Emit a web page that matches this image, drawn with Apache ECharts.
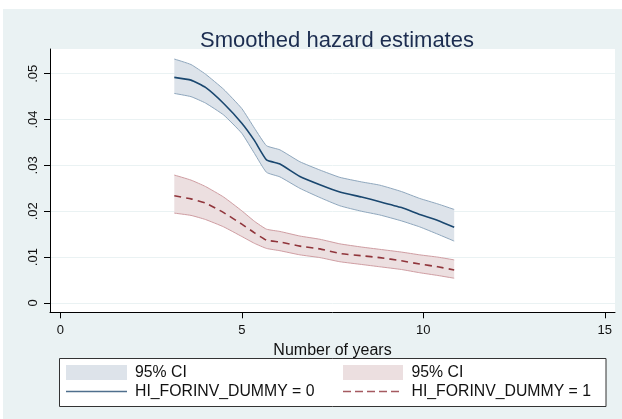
<!DOCTYPE html>
<html>
<head>
<meta charset="utf-8">
<script src="https://cdn.jsdelivr.net/npm/echarts@6/dist/echarts.min.js"></script>
<style>
    body { margin: 0; background: #fff; }
    #bg { position: absolute; left: 3px; top: 9px; width: 619px; height: 410px; background: #eaf2f3; }
    #chart { position: absolute; left: 0; top: 0; width: 622px; height: 419px; }
</style>
</head>
<body>
<div id="bg"></div>
<div id="chart"></div>
<script>
// years on the x axis
const years = [3.14, 3.6, 4.0, 4.5, 5.0, 5.35, 5.68, 6.05, 6.6, 7.15, 7.7, 8.3, 8.8, 9.4, 9.9, 10.4, 10.85];

// HI_FORINV_DUMMY = 0
const blueMean  = [.0492, .0486, .0470, .0435, .0392, .0354, .0312, .0303, .0276, .0258, .0242, .0231, .0221, .0208, .0193, .0180, .0165];
const blueUpper = [.0532, .0520, .0499, .0466, .0424, .0381, .0343, .0334, .0308, .0290, .0274, .0264, .0257, .0243, .0228, .0216, .0204];
const blueLower = [.0457, .0450, .0436, .0410, .0370, .0326, .0285, .0275, .0250, .0230, .0212, .0200, .0192, .0179, .0166, .0150, .0135];

// HI_FORINV_DUMMY = 1
const redMean  = [.0234, .0227, .0218, .0197, .0172, .0153, .0137, .0133, .0124, .0118, .0108, .0103, .0099, .0092, .0085, .0079, .0072];
const redUpper = [.0279, .0268, .0254, .0231, .0201, .0178, .0161, .0156, .0146, .0139, .0129, .0122, .0117, .0111, .0105, .0100, .0094];
const redLower = [.0196, .0191, .0182, .0166, .0145, .0130, .0119, .0114, .0105, .0099, .0090, .0084, .0079, .0073, .0066, .0060, .0054];

const xTicks = [0, 5, 10, 15];
const yTicks = [0, 0.01, 0.02, 0.03, 0.04, 0.05];

const blue = '#1a476f', blueFill = '#dde3ea', blueEdge = '#8fa7bd';
const red = '#90353b', redFill = '#ecdfe0', redEdge = '#cf9da2';
const SMOOTH = 0.15;

// CI band: filled polygon (custom series) plus the two edge lines
function band(lower, upper, fill, edge) {
    return [
        {
            type: 'custom',
            data: years.map((x, i) => [x, lower[i], upper[i]]),
            encode: { x: 0, y: [1, 2] },
            silent: true,
            z: 1,
            renderItem(params, api) {
                if (params.dataIndex !== 0) return;
                const pts = [];
                years.forEach((x, i) => pts.push(api.coord([x, upper[i]])));
                for (let i = years.length - 1; i >= 0; i--) pts.push(api.coord([years[i], lower[i]]));
                return { type: 'polygon', shape: { points: pts }, style: { fill: fill } };
            },
        },
        { type: 'line', data: years.map((x, i) => [x, upper[i]]), symbol: 'none', smooth: SMOOTH, lineStyle: { color: edge, width: 1 }, z: 2 },
        { type: 'line', data: years.map((x, i) => [x, lower[i]]), symbol: 'none', smooth: SMOOTH, lineStyle: { color: edge, width: 1 }, z: 2 },
    ];
}

const chart = echarts.init(document.getElementById('chart'));
const font = 'Liberation Sans, Arial, sans-serif';

const option = {
    animation: false,
    backgroundColor: 'transparent',
    textStyle: { fontFamily: font },
    title: {
        text: 'Smoothed hazard estimates',
        left: 332, top: 25, textAlign: 'center',
        textStyle: { fontSize: 22, fontWeight: 'normal', color: '#1c2d50', fontFamily: font },
    },
    grid: {
        left: 50, right: 7, top: 49, bottom: 106.7,
        show: true, backgroundColor: '#fff', borderWidth: 0,
        containLabel: false, outerBoundsMode: 'none',
    },
    xAxis: {
        type: 'value', min: -0.284, max: 15.28,
        name: 'Number of years', nameLocation: 'middle', nameGap: 19,
        nameTextStyle: { fontSize: 16, color: '#111', fontFamily: font },
        axisLine: { onZero: false, lineStyle: { color: '#000', width: 1 } },
        axisTick: { customValues: xTicks, length: 6, lineStyle: { color: '#000' } },
        axisLabel: { customValues: xTicks, margin: 12, fontSize: 13, color: '#111', fontFamily: font },
        splitLine: { show: false },
    },
    yAxis: {
        type: 'value', min: -0.00203, max: 0.05539,
        axisLine: { show: true, onZero: false, lineStyle: { color: '#000', width: 1 } },
        axisTick: { show: true, customValues: yTicks, length: 6, lineStyle: { color: '#000' } },
        axisLabel: {
            customValues: yTicks, margin: 10, rotate: 90, fontSize: 13, color: '#111', fontFamily: font,
            formatter: v => (v === 0 ? '0' : v.toFixed(2).replace(/^0/, '')),
        },
        splitLine: { show: true, lineStyle: { color: '#eaf2f3', width: 1 } },
    },
    series: [
        ...band(blueLower, blueUpper, blueFill, blueEdge),
        ...band(redLower, redUpper, redFill, redEdge),
        { type: 'line', data: years.map((x, i) => [x, blueMean[i]]), symbol: 'none', smooth: SMOOTH, lineStyle: { color: blue, width: 1.6 }, z: 3 },
        { type: 'line', data: years.map((x, i) => [x, redMean[i]]), symbol: 'none', smooth: SMOOTH, lineStyle: { color: red, width: 1.6, type: [7, 5] }, z: 3 },
    ],
    graphic: [
        { type: 'rect', shape: { x: 59.5, y: 358.5, width: 546.5, height: 48 }, style: { fill: '#fff', stroke: '#333', lineWidth: 1 } },
        { type: 'rect', shape: { x: 66, y: 365, width: 61, height: 15 }, style: { fill: blueFill } },
        { type: 'text', x: 135, y: 373, style: { text: '95% CI', fontSize: 15.8, fill: '#111', verticalAlign: 'middle', fontFamily: font } },
        { type: 'line', shape: { x1: 66, y1: 391.5, x2: 127, y2: 391.5 }, style: { stroke: '#4f6f8d', lineWidth: 1.5 } },
        { type: 'text', x: 135, y: 391.5, style: { text: 'HI_FORINV_DUMMY = 0', fontSize: 15.8, fill: '#111', verticalAlign: 'middle', fontFamily: font } },
        { type: 'rect', shape: { x: 343, y: 365, width: 60, height: 15 }, style: { fill: redFill } },
        { type: 'text', x: 411.5, y: 373, style: { text: '95% CI', fontSize: 15.8, fill: '#111', verticalAlign: 'middle', fontFamily: font } },
        { type: 'line', shape: { x1: 343, y1: 391.5, x2: 403, y2: 391.5 }, style: { stroke: '#a55a60', lineWidth: 1.5, lineDash: [8, 4] } },
        { type: 'text', x: 411.5, y: 391.5, style: { text: 'HI_FORINV_DUMMY = 1', fontSize: 15.8, fill: '#111', verticalAlign: 'middle', fontFamily: font } },
    ],
};

chart.setOption(option);
</script>
</body>
</html>
